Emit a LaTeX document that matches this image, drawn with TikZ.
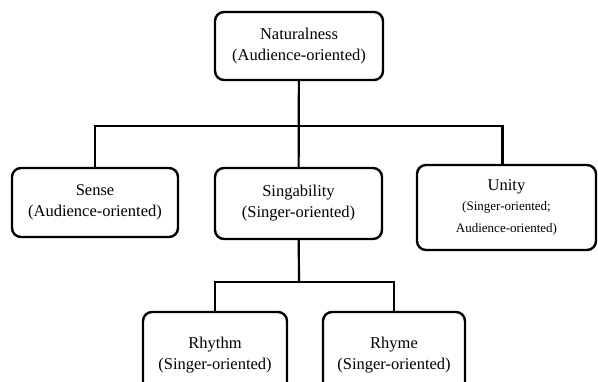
\documentclass[tikz,border=0pt]{standalone}
\usepackage{fontspec}
\setmainfont{Liberation Serif}
\usetikzlibrary{calc}
\tikzset{box/.style={
    draw=black,
    line width=2.4pt,
    rounded corners=9pt,
    align=center,
    inner sep=0pt,
    font=\fontsize{16.5}{21}\selectfont},
  link/.style={
    draw=black,
    line width=2.2pt}}
\newcommand{\smalltxt}{\fontsize{13}{16}\selectfont}

\begin{document}
\begin{tikzpicture}[x=1pt,y=-1pt]
\useasboundingbox (0,0) rectangle (598,381);
\coordinate (topbus) at (299,126);
\coordinate (lowbus) at (299,282);

\node[box, minimum width=168pt, minimum height=68pt] (nat) at (299,46) {Naturalness\\(Audience-oriented)};
\node[box, minimum width=166pt, minimum height=69pt] (sense) at (95,202.5) {Sense\\(Audience-oriented)};
\node[box, minimum width=167pt, minimum height=71pt] (sing) at (298.5,203.5) {Singability\\(Singer-oriented)};
\node[box, minimum width=179pt, minimum height=85pt] (unity) at (506.5,207.5) {Unity\\[-1pt]{\smalltxt(Singer-oriented;}\\[1pt]{\smalltxt Audience-oriented)}};
\node[box, minimum width=144pt, minimum height=86pt] (rhythm) at (215,355) {Rhythm\\(Singer-oriented)};
\node[box, minimum width=142pt, minimum height=86pt] (rhyme) at (394,355) {Rhyme\\(Singer-oriented)};

\path[link] (nat) -- (sing);
\path[link] (sense) |- (topbus) -| ($(unity.north)+(-4,0)$);
\path[link] (sing) -- (lowbus);
\path[link] (rhythm) |- (lowbus) -| (rhyme);
\end{tikzpicture}
\end{document}
